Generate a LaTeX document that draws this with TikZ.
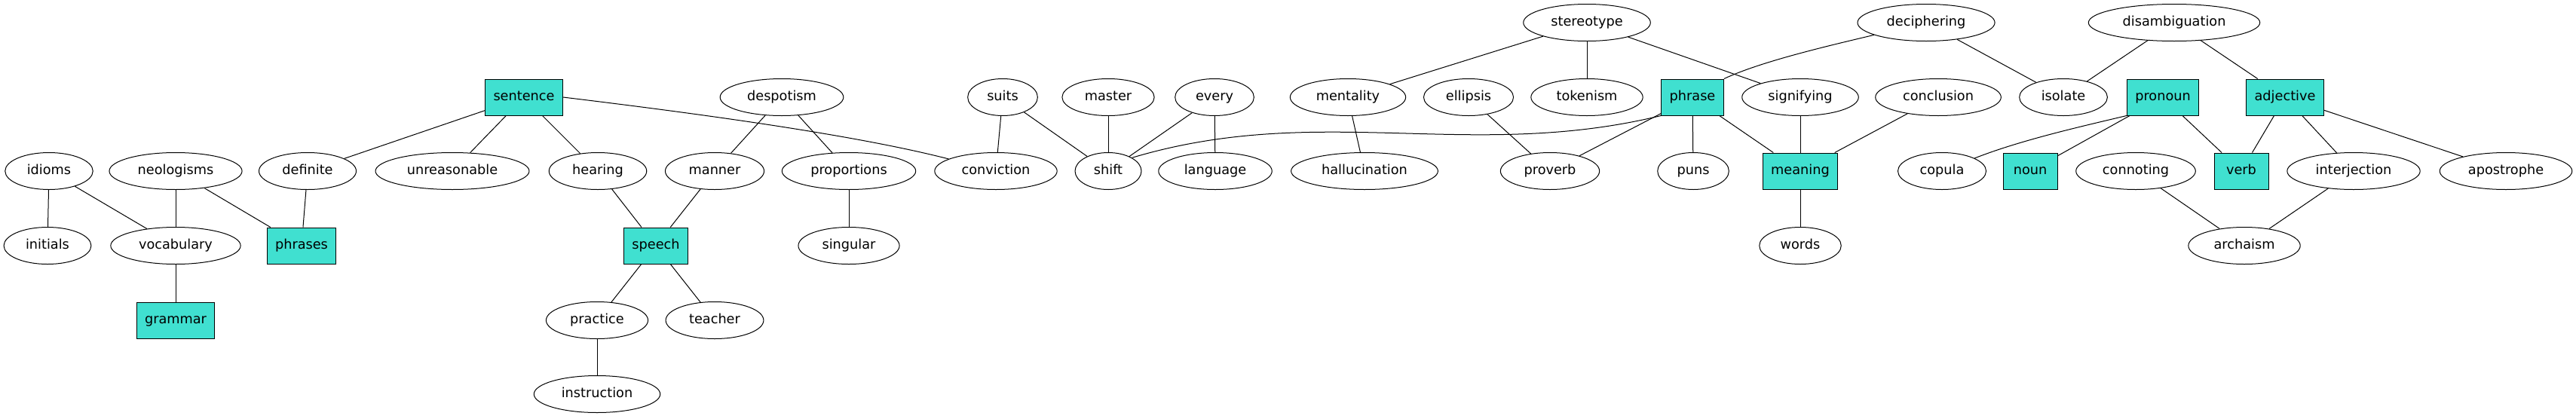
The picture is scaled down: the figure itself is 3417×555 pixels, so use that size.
\documentclass[tikz,border=0pt]{standalone}
\usepackage{fontspec}
\setmainfont{DejaVu Sans}
\usepackage{tikz}
\usetikzlibrary{
  shapes.geometric,%
  calc
}
\definecolor{termfill}{HTML}{40E0D0}
\tikzset{font=\fontsize{17.7}{21}\selectfont}
\tikzset{word/.style={ellipse, draw, line width=1pt, inner xsep=12pt,
    inner ysep=2pt, minimum width=68pt, minimum height=49pt,
    text height=13.5pt, text depth=4pt}}
\tikzset{term/.style={rectangle, draw, line width=1pt, fill=termfill,
    inner xsep=11pt, minimum width=72pt, minimum height=48pt,
    text height=13.5pt, text depth=4pt}}
\tikzset{link/.style={line width=1pt}}

\begin{document}
\begin{tikzpicture}[x=1pt, y=-1pt]
      \useasboundingbox (0,0) rectangle (3417,555);%
      % top row
      \node[word] (stereotype) at (2105,30) {stereotype};%
      \node[word] (deciphering) at (2555,30) {deciphering};%
      \node[word] (disambiguation) at (2884,30) {disambiguation};%
      % second row
      \node[term] (sentence) at (695,129) {sentence};%
      \node[word] (despotism) at (1037,129) {despotism};%
      \node[word] (suits) at (1330,129) {suits};%
      \node[word] (master) at (1470,129) {master};%
      \node[word] (every) at (1611,129) {every};%
      \node[word] (mentality) at (1788,129) {mentality};%
      \node[word] (ellipsis) at (1948,129) {ellipsis};%
      \node[word] (tokenism) at (2105,129) {tokenism};%
      \node[term] (phrase) at (2245,129) {phrase};%
      \node[word] (signifying) at (2388,129) {signifying};%
      \node[word] (conclusion) at (2571,129) {conclusion};%
      \node[word] (isolate) at (2737,129) {isolate};%
      \node[term] (pronoun) at (2869,129) {pronoun};%
      \node[term] (adjective) at (3031,129) {adjective};%
      % third row
      \node[word] (idioms) at (65,227) {idioms};%
      \node[word] (neologisms) at (233,227) {neologisms};%
      \node[word] (definite) at (408,227) {definite};%
      \node[word] (unreasonable) at (600,227) {unreasonable};%
      \node[word] (hearing) at (793,227) {hearing};%
      \node[word] (manner) at (948,227) {manner};%
      \node[word] (proportions) at (1126,227) {proportions};%
      \node[word] (conviction) at (1321,227) {conviction};%
      \node[word] (shift) at (1470,227) {shift};%
      \node[word] (language) at (1612,227) {language};%
      \node[word] (hallucination) at (1810,227) {hallucination};%
      \node[word] (proverb) at (2056,227) {proverb};%
      \node[word] (puns) at (2246,227) {puns};%
      \node[term] (meaning) at (2388,227) {meaning};%
      \node[word] (copula) at (2576,227) {copula};%
      \node[term] (noun) at (2693,227) {noun};%
      \node[word] (connoting) at (2833,227) {connoting};%
      \node[term] (verb) at (2973,227) {verb};%
      \node[word] (interjection) at (3122,227) {interjection};%
      \node[word] (apostrophe) at (3324,227) {apostrophe};%
      % fourth row
      \node[word] (initials) at (63,326) {initials};%
      \node[word] (vocabulary) at (233,326) {vocabulary};%
      \node[term] (phrases) at (400,326) {phrases};%
      \node[term] (speech) at (870,326) {speech};%
      \node[word] (singular) at (1126,326) {singular};%
      \node[word] (words) at (2388,326) {words};%
      \node[word] (archaism) at (2977,326) {archaism};%
      % bottom rows
      \node[term] (grammar) at (233,425) {grammar};%
      \node[word] (practice) at (792,425) {practice};%
      \node[word] (teacher) at (948,425) {teacher};%
      \node[word] (instruction) at (792,523) {instruction};%
      % connectors
      \draw[link] (idioms) -- (initials);%
      \draw[link] (idioms) -- (vocabulary);%
      \draw[link] (neologisms) -- (vocabulary);%
      \draw[link] (neologisms) -- (phrases);%
      \draw[link] (definite) -- (phrases);%
      \draw[link] (vocabulary) -- (grammar);%
      \draw[link] (sentence) -- (definite);%
      \draw[link] (sentence) -- (unreasonable);%
      \draw[link] (sentence) -- (hearing);%
      \draw[link] (sentence.east) .. controls (920,150) and (1130,178) .. (conviction);%
      \draw[link] (hearing) -- (speech);%
      \draw[link] (manner) -- (speech);%
      \draw[link] (despotism) -- (manner);%
      \draw[link] (despotism) -- (proportions);%
      \draw[link] (proportions) -- (singular);%
      \draw[link] (speech) -- (practice);%
      \draw[link] (speech) -- (teacher);%
      \draw[link] (practice) -- (instruction);%
      \draw[link] (suits) -- (conviction);%
      \draw[link] (suits) -- (shift);%
      \draw[link] (master) -- (shift);%
      \draw[link] (every) -- (shift);%
      \draw[link] (every) -- (language);%
      \draw[link] (phrase.south west) .. controls (1950,215) and (1750,135) .. (shift.north east);%
      \draw[link] (stereotype) -- (mentality);%
      \draw[link] (stereotype) -- (tokenism);%
      \draw[link] (stereotype) -- (signifying);%
      \draw[link] (mentality) -- (hallucination);%
      \draw[link] (ellipsis) -- (proverb);%
      \draw[link] (phrase) -- (proverb);%
      \draw[link] (phrase) -- (puns);%
      \draw[link] (phrase) -- (meaning);%
      \draw[link] (signifying) -- (meaning);%
      \draw[link] (conclusion) -- (meaning);%
      \draw[link] (meaning) -- (words);%
      \draw[link] (deciphering) .. controls (2420,62) and (2335,82) .. (phrase.north east);%
      \draw[link] (deciphering) -- (isolate);%
      \draw[link] (disambiguation) -- (isolate);%
      \draw[link] (disambiguation) -- (adjective);%
      \draw[link] (pronoun.south west) .. controls (2760,168) and (2680,186) .. (copula);%
      \draw[link] (pronoun) -- (noun);%
      \draw[link] (pronoun) -- (verb);%
      \draw[link] (adjective) -- (verb);%
      \draw[link] (adjective) -- (interjection);%
      \draw[link] (adjective) -- (apostrophe);%
      \draw[link] (connoting) -- (archaism);%
      \draw[link] (interjection) -- (archaism);%
    \end{tikzpicture}
\end{document}
